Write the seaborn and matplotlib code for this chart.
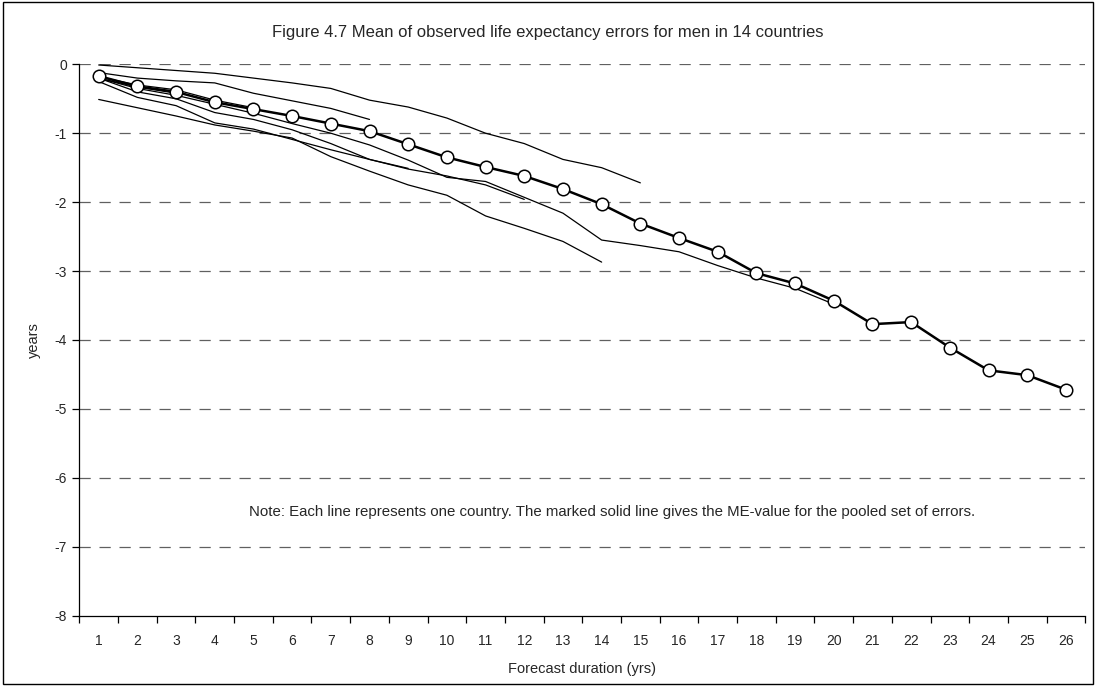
import numpy as np
import pandas as pd
import matplotlib.pyplot as plt
import seaborn as sns
from matplotlib.patches import Rectangle

sns.set_style('white')
plt.rcParams['font.family'] = ['Liberation Sans', 'DejaVu Sans']

# forecast duration (years)
durations = list(range(1, 27))

# mean error for the pooled set (marked line)
pooled_me = [-0.17, -0.32, -0.40, -0.55, -0.65, -0.75, -0.86, -0.97, -1.16, -1.35,
             -1.49, -1.62, -1.81, -2.03, -2.31, -2.52, -2.72, -3.03, -3.18, -3.43,
             -3.77, -3.74, -4.11, -4.44, -4.51, -4.72]

# single countries (series of different length)
country_a = [-0.01, -0.05, -0.09, -0.13, -0.20, -0.27, -0.35, -0.52, -0.62, -0.78,
             -1.00, -1.15, -1.38, -1.50, -1.72]
country_b = [-0.12, -0.20, -0.24, -0.27, -0.42, -0.53, -0.64, -0.80]
country_c = [-0.51, -0.63, -0.75, -0.88, -0.97, -1.07, -1.34, -1.55, -1.75, -1.90,
             -2.20, -2.38, -2.57, -2.87]
country_d = [-0.25, -0.48, -0.60, -0.85, -0.94, -1.09, -1.24, -1.38, -1.51]
country_e = [-0.20, -0.40, -0.50, -0.70, -0.80, -0.95, -1.15, -1.38, -1.52, -1.62,
             -1.75, -1.96]
country_f = [-0.20, -0.35, -0.45, -0.58, -0.71, -0.86, -1.00, -1.17, -1.39, -1.64,
             -1.70, -1.93, -2.16, -2.55, -2.63, -2.72, -2.92, -3.10, -3.25, -3.48]
country_g = [-0.20, -0.33, -0.42]
country_h = [-0.18, -0.30, -0.37, -0.52, -0.63]

countries = [country_a, country_b, country_c, country_d, country_e, country_f,
             country_g, country_h]

rows = []
for i, vals in enumerate(countries):
    for d, v in zip(durations, vals):
        rows.append({'country': i, 'duration': d, 'error': v})
df = pd.DataFrame(rows)
pooled = pd.DataFrame({'duration': durations, 'error': pooled_me})

fig = plt.figure(figsize=(10.96, 6.87), dpi=100)
ax = fig.add_axes([0.0724, 0.1038, 0.9902 - 0.0724, 0.9064 - 0.1038])

# outer frame
fig.patches.append(Rectangle((0.003, 0.004), 0.994, 0.993, transform=fig.transFigure,
                             fill=False, edgecolor='black', linewidth=1.0))

for y in range(-7, 1):
    ax.axhline(y, color='#606060', linestyle=(0, (9, 7)), linewidth=0.9, zorder=0)

for i in df['country'].unique():
    sns.lineplot(data=df[df['country'] == i], x='duration', y='error', ax=ax,
                 color='black', linewidth=0.9, zorder=2)

sns.lineplot(data=pooled, x='duration', y='error', ax=ax, color='black',
             linewidth=1.8, marker='o', markersize=9, markerfacecolor='white',
             markeredgecolor='black', markeredgewidth=1.1, zorder=3)

ax.set_xlim(0.5, 26.5)
ax.set_ylim(-8, 0)
ax.set_yticks(range(-8, 1))
ax.set_yticklabels([str(v) for v in range(-8, 1)], fontsize=10)
ax.set_xticks(np.arange(0.5, 27, 1))
ax.set_xticklabels([])
ax.set_xticks(durations, minor=True)
ax.set_xticklabels([str(d) for d in durations], minor=True, fontsize=10)
ax.tick_params(axis='x', which='major', direction='out', length=5, width=0.9,
               color='black', bottom=True)
ax.tick_params(axis='x', which='minor', length=0, pad=13)
ax.tick_params(axis='y', direction='out', length=5, width=0.9, color='black',
               left=True, pad=4)

for side in ['top', 'right']:
    ax.spines[side].set_visible(False)
for side in ['left', 'bottom']:
    ax.spines[side].set_color('black')
    ax.spines[side].set_linewidth(0.9)

ax.set_xlabel('Forecast duration (yrs)', fontsize=10.5, labelpad=10)
ax.set_ylabel('years', fontsize=10.5, labelpad=10)

fig.text(0.5, 0.953, 'Figure 4.7 Mean of observed life expectancy errors for men in 14 countries',
         ha='center', va='center', fontsize=12)
ax.text(0.53, -6.5, 'Note: Each line represents one country. The marked solid line gives the '
        'ME-value for the pooled set of errors.',
        transform=ax.get_yaxis_transform(), ha='center', va='center', fontsize=10.8)

fig.savefig('out.png', dpi=100, facecolor='white')
